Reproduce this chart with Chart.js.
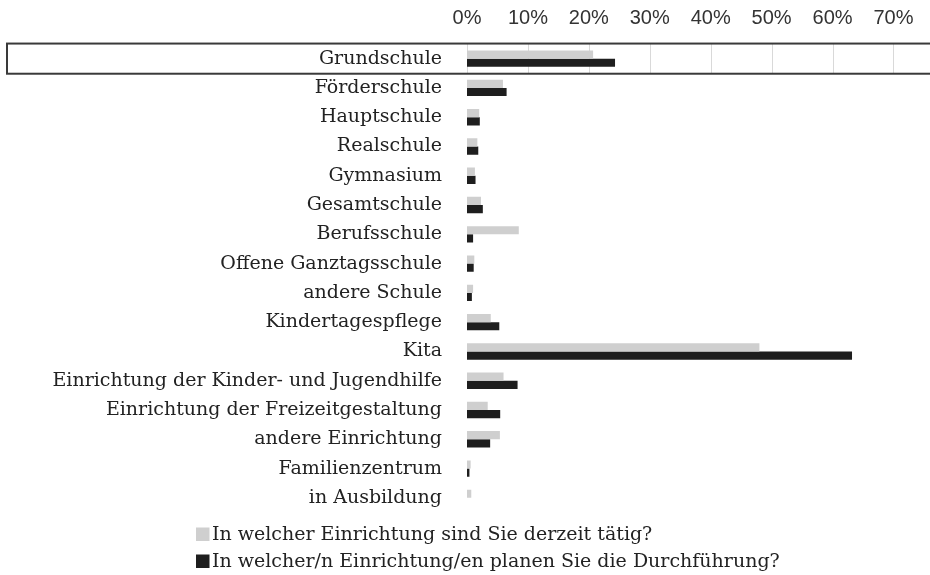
<!DOCTYPE html>
<html>
<head>
<meta charset="utf-8">
<script src="https://cdn.jsdelivr.net/npm/chart.js@4"></script>
<style>
  html, body { margin: 0; padding: 0; background: #fff; }
  #wrap { width: 930px; height: 575px; }
</style>
</head>
<body>
<div id="wrap"><canvas id="chart" width="930" height="575"></canvas></div>
<script>
// Daten (in %)
const einrichtungen = [
    "Grundschule", "Förderschule", "Hauptschule", "Realschule", "Gymnasium",
    "Gesamtschule", "Berufsschule", "Offene Ganztagsschule", "andere Schule",
    "Kindertagespflege", "Kita", "Einrichtung der Kinder- und Jugendhilfe",
    "Einrichtung der Freizeitgestaltung", "andere Einrichtung",
    "Familienzentrum", "in Ausbildung"
];
const derzeitTaetig = [20.7, 5.9, 2.0, 1.7, 1.3, 2.3, 8.5, 1.2, 1.0, 3.9, 48.0, 6.0, 3.4, 5.4, 0.6, 0.7];
const geplant = [24.3, 6.5, 2.1, 1.85, 1.4, 2.6, 1.0, 1.1, 0.8, 5.3, 63.2, 8.3, 5.45, 3.8, 0.4, 0];
const seriesLabels = [
    "In welcher Einrichtung sind Sie derzeit tätig?",
    "In welcher/n Einrichtung/en planen Sie die Durchführung?"
];
const tickValues = [0, 10, 20, 30, 40, 50, 60, 70];

const serif = "'DejaVu Serif', 'Liberation Serif', serif";

// Rahmen um "Grundschule" + Gitterlinien nur innerhalb des Rahmens
const highlight = {
    id: "highlight",
    beforeDatasetsDraw(chart) {
        const { ctx, scales: { x, y } } = chart;
        const step = y.getPixelForValue(1) - y.getPixelForValue(0);
        const c = y.getPixelForValue(0);
        const top = c - step * 0.515, bottom = c + step * 0.515;
        ctx.save();
        ctx.strokeStyle = "#d9d9d9";
        ctx.lineWidth = 1;
        x.ticks.forEach(t => {
            const px = Math.round(x.getPixelForValue(t.value)) + 0.5;
            ctx.beginPath();
            ctx.moveTo(px, top);
            ctx.lineTo(px, bottom);
            ctx.stroke();
        });
        ctx.restore();
    },
    afterDatasetsDraw(chart) {
        const { ctx, scales: { y } } = chart;
        const step = y.getPixelForValue(1) - y.getPixelForValue(0);
        const c = y.getPixelForValue(0);
        const top = c - step * 0.515, bottom = c + step * 0.515;
        ctx.save();
        ctx.strokeStyle = "#3a3a3a";
        ctx.lineWidth = 2;
        ctx.strokeRect(7, top, chart.width + 10, bottom - top);
        ctx.restore();
    }
};

// Legende untereinander, linksbündig
const stackedLegend = {
    id: "stackedLegend",
    afterDraw(chart) {
        const { ctx, chartArea } = chart;
        ctx.save();
        ctx.font = "19px " + serif;
        ctx.textBaseline = "middle";
        ctx.textAlign = "left";
        chart.data.datasets.forEach((ds, i) => {
            const yy = chartArea.bottom + 22 + i * 27;
            ctx.fillStyle = ds.backgroundColor;
            ctx.fillRect(196, yy - 7, 13.5, 13.5);
            ctx.fillStyle = "#222";
            ctx.fillText(ds.label, 212, yy + 1);
        });
        ctx.restore();
    }
};

new Chart(document.getElementById("chart"), {
    type: "bar",
    data: {
        labels: einrichtungen,
        datasets: [
            { label: seriesLabels[0], data: derzeitTaetig, backgroundColor: "#cfcfcf" },
            { label: seriesLabels[1], data: geplant, backgroundColor: "#1e1e1e" }
        ]
    },
    options: {
        indexAxis: "y",
        responsive: false,
        animation: false,
        layout: { padding: { top: 0, left: 0, right: 0, bottom: 62.5 } },
        datasets: { bar: { categoryPercentage: 0.56, barPercentage: 1.0 } },
        plugins: {
            legend: { display: false },
            tooltip: { enabled: false }
        },
        scales: {
            x: {
                position: "top",
                min: 0,
                max: 76,
                afterBuildTicks(scale) {
                    scale.ticks = tickValues.map(v => ({ value: v }));
                },
                afterFit(scale) { scale.height = 44; },
                grid: { display: false, drawTicks: false },
                border: { display: false },
                ticks: {
                    padding: 14,
                    color: "#333",
                    font: { family: "'Liberation Sans', sans-serif", size: 20 },
                    callback: v => v + "%"
                }
            },
            y: {
                afterFit(scale) { scale.width = 467; },
                grid: { display: false, drawTicks: false },
                border: { display: false },
                ticks: {
                    padding: 25,
                    color: "#222",
                    autoSkip: false,
                    font: { family: serif, size: 19 }
                }
            }
        }
    },
    plugins: [highlight, stackedLegend]
});
</script>
</body>
</html>
